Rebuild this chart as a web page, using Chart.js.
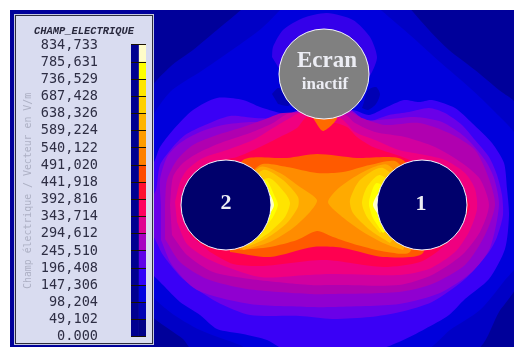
<!DOCTYPE html>
<html>
<head>
<meta charset="utf-8">
<style>
html, body { margin: 0; padding: 0; background: #fff; }
#field { position: absolute; left: 10px; top: 10px; background: #00009a; filter: blur(0.5px); }
#panel { position: absolute; left: 15px; top: 15px; width: 136px; height: 327px; background: #d9dcf0; border: 1.5px solid #2c2c3c; outline: 1px solid #c4c8e0; }
#scale { position: absolute; left: 22px; top: 19px; filter: blur(0.3px); }
</style>
</head>
<body>
<canvas id="field" width="504" height="337"></canvas>
<div id="panel"></div>
<canvas id="scale" width="129" height="326"></canvas>
<script src="https://cdn.jsdelivr.net/npm/chart.js@4"></script>
<script>
// legend levels, V/m
var levelValues = [0, 49102, 98204, 147306, 196408, 245510, 294612, 343714, 392816, 441918, 491020, 540122, 589224, 638326, 687428, 736529, 785631, 834733];
var levelLabels = ['0.000', '49,102', '98,204', '147,306', '196,408', '245,510', '294,612', '343,714', '392,816', '441,918', '491,020', '540,122', '589,224', '638,326', '687,428', '736,529', '785,631', '834,733'];
var levelColors = ['#000088', '#0000b4', '#0000e0', '#3000f8', '#6000e8', '#a800c0', '#e00090', '#ff0060', '#ff1030', '#ff4a00', '#ff8000', '#ff9c00', '#ffb400', '#ffd000', '#ffe600', '#ffff00', '#fffcc8'];

// contours, [x, y], outer to inner
var band1 = [[247,5],[217,30],[193,50],[170,67],[150,92],[150,310],[155,319],[183,339],[193,350],[475,350],[499,312],[518,282],[518,107],[499,90],[475,70],[449,50],[429,30],[407,5]];
var band2 = [[285,5],[262,28],[232,50],[200,72],[170,92],[150,125],[150,290],[170,312],[200,330],[240,345],[250,350],[425,350],[450,330],[480,310],[505,280],[518,262],[518,140],[495,112],[470,88],[440,62],[410,35],[375,5]];
var band3 = [[150,170],[155,160],[160,147],[173,130],[193,110],[217,98],[243,100],[260,107],[280,113],[300,116],[324,118],[352,110],[369,115],[385,108],[404,100],[419,102],[432,100],[455,108],[472,123],[492,143],[504,163],[507,189],[509,215],[505,249],[489,279],[465,299],[449,315],[425,329],[399,342],[369,352],[290,352],[267,340],[243,334],[217,329],[200,315],[180,302],[163,285],[150,272]];
var halo = [[272,57],[273,47],[283,30],[303,18],[327,13],[353,20],[370,37],[377,57],[372,72],[365,80],[285,80],[280,70]];
var spotLeft = [[272,94],[278,88],[284,90],[292,102],[288,106],[278,104]];
var spotRight = [[364,102],[368,90],[376,87],[380,94],[376,104],[368,110],[362,108]];
var band4 = [[150,200],[156,190],[160,165],[172,148],[185,135],[205,125],[230,116],[255,118],[280,118],[300,110],[350,110],[365,122],[389,115],[409,112],[429,108],[445,113],[462,125],[475,140],[489,157],[497,175],[502,195],[503,215],[497,237],[489,252],[465,279],[432,302],[400,312],[370,317],[332,319],[300,316],[250,315],[217,302],[183,279],[163,255],[155,239],[150,230]];
var band5 = [[161,205],[160,180],[167,157],[180,143],[200,132],[223,125],[250,122],[282,122],[300,110],[350,110],[365,120],[390,119],[415,117],[442,122],[465,137],[485,160],[494,178],[499,205],[490,248],[472,272],[440,293],[399,304],[332,307],[310,307],[250,304],[197,290],[172,265],[161,240]];
var band6 = [[165,205],[167,180],[177,160],[193,145],[217,135],[240,128],[263,120],[283,113],[349,112],[362,118],[385,125],[419,123],[449,133],[475,150],[489,179],[495,205],[485,235],[465,265],[432,284],[399,292],[332,294],[310,294],[247,289],[207,279],[180,262],[165,239]];
var band7 = [[170,205],[173,177],[183,163],[200,152],[223,142],[250,133],[273,123],[290,113],[345,115],[355,123],[375,132],[405,137],[435,147],[462,163],[480,179],[489,205],[480,232],[462,255],[432,275],[399,285],[332,285],[310,285],[250,279],[213,272],[187,255],[172,235]];
var band8 = [[175,202],[180,182],[187,170],[203,158],[227,150],[253,140],[273,128],[290,118],[300,113],[340,118],[355,132],[375,140],[399,150],[425,155],[445,160],[465,173],[475,189],[477,209],[469,232],[455,252],[429,269],[399,275],[332,274],[307,275],[260,277],[210,260],[187,244],[177,222]];
var band9 = [[190,235],[182,205],[213,163],[237,157],[260,147],[280,137],[297,128],[307,117],[332,122],[347,127],[357,137],[373,147],[397,155],[410,160],[450,175],[470,205],[460,227],[443,247],[420,262],[383,267],[324,260],[263,266],[233,264],[210,252]];
var band10 = [[226,205],[243,160],[287,158],[317,154],[357,158],[403,160],[422,205],[423,253],[383,257],[343,248],[313,247],[270,257],[230,252]];
var tip = [[313,118],[323,131],[337,118],[325,108]];
var band11 = [[226,205],[260,165],[287,167],[317,173],[343,172],[370,165],[397,162],[422,205],[410,252],[387,252],[357,245],[333,237],[317,231],[297,240],[270,247],[240,250]];
var band12L = [[226,205],[260,167],[280,173],[300,187],[317,200],[310,212],[293,228],[270,242],[243,250]];
var band12R = [[422,205],[388,165],[367,170],[340,187],[328,202],[340,215],[360,230],[383,243],[403,250]];
var band13L = [[226,205],[263,170],[283,180],[298,197],[298,207],[287,223],[267,238],[247,247]];
var band13R = [[422,205],[383,168],[360,180],[350,200],[353,213],[370,230],[390,243]];
var band14L = [[226,205],[268,178],[285,193],[290,203],[285,217],[270,232],[258,240]];
var band14R = [[422,205],[380,175],[367,187],[362,203],[367,217],[380,233]];
var band15L = [[226,205],[265,180],[275,197],[278,205],[273,217],[263,230]];
var band15R = [[422,205],[377,183],[370,197],[369,205],[373,218],[383,233]];
var band16L = [[226,205],[268,193],[274,205],[268,217]];
var band16R = [[422,205],[380,193],[373,205],[380,217]];

var contours = [band1, band2, band3, halo, spotLeft, spotRight, band4, band5, band6, band7, band8, band9, tip, band10, band11, band12L, band12R, band13L, band13R, band14L, band14R, band15L, band15R, band16L, band16R];
var contourColors = ['#0000c6', '#0000dc', '#3a00f6', '#3400ea', '#0000b4', '#0000b4', '#6a00e8', '#9000d0', '#b000b0', '#d000a0', '#f00080', '#ff0050', '#ff6a00', '#ff5a00', '#ff8c00', '#ffaa00', '#ffaa00', '#ffc800', '#ffc800', '#ffe400', '#ffe400', '#ffff00', '#ffff00', '#ffffc0', '#ffffc0'];

// electrodes
var electrodes = [{x: 324, y: 74}, {x: 226, y: 205}, {x: 422, y: 205}];
var electrodeColors = ['#808080', '#00006c', '#00006c'];
var electrodeTexts = [
    {text: 'Ecran', x: 327, y: 61, font: 'bold 23px "Liberation Serif"'},
    {text: 'inactif', x: 325, y: 85, font: 'bold 17px "Liberation Serif"'},
    {text: '2', x: 226, y: 203, font: 'bold 22px "Liberation Serif"'},
    {text: '1', x: 421, y: 204, font: 'bold 22px "Liberation Serif"'}
];

var fieldSets = contours.map(function (c, i) {
    return {
        type: 'scatter',
        data: c.map(function (p) { return {x: p[0], y: p[1]}; }),
        showLine: true,
        fill: 'shape',
        tension: 0.25,
        borderWidth: 0,
        pointRadius: 0,
        backgroundColor: contourColors[i],
        order: contours.length - i + 1
    };
});
fieldSets.push({
    type: 'scatter',
    data: electrodes,
    pointRadius: 45,
    pointBorderWidth: 1,
    pointBorderColor: '#f4f4ff',
    pointBackgroundColor: electrodeColors,
    order: 0
});

var textPlugin = {
    id: 'electrodeTexts',
    afterDatasetsDraw: function (chart) {
        var ctx = chart.ctx;
        ctx.save();
        ctx.textAlign = 'center';
        ctx.textBaseline = 'middle';
        ctx.fillStyle = '#ecedf4';
        electrodeTexts.forEach(function (t) {
            ctx.font = t.font;
            ctx.fillText(t.text, chart.scales.x.getPixelForValue(t.x), chart.scales.y.getPixelForValue(t.y));
        });
        ctx.restore();
    }
};

new Chart(document.getElementById('field').getContext('2d'), {
    data: {datasets: fieldSets},
    plugins: [textPlugin],
    options: {
        responsive: false,
        animation: false,
        events: [],
        layout: {autoPadding: false},
        plugins: {legend: {display: false}, tooltip: {enabled: false}},
        scales: {
            x: {type: 'linear', min: 10, max: 514, display: false},
            y: {type: 'linear', min: 10, max: 347, reverse: true, display: false}
        }
    }
});

var scaleSets = [{data: [[0, 834733], null], backgroundColor: '#000090', barPercentage: 1, categoryPercentage: 1}];
levelColors.forEach(function (color, i) {
    scaleSets.push({
        data: [null, [levelValues[i], levelValues[i + 1]]],
        backgroundColor: color,
        barPercentage: 1,
        categoryPercentage: 1
    });
});

new Chart(document.getElementById('scale').getContext('2d'), {
    type: 'bar',
    data: {labels: ['base', 'level'], datasets: scaleSets},
    options: {
        responsive: false,
        animation: false,
        events: [],
        layout: {autoPadding: false, padding: {top: 6, right: 5, bottom: 8, left: 0}},
        plugins: {
            legend: {display: false},
            tooltip: {enabled: false},
            title: {
                display: true,
                text: 'CHAMP_ELECTRIQUE',
                color: '#28283c',
                align: 'center',
                font: {family: '"Liberation Mono"', size: 10.4, style: 'italic', weight: 'bold', lineHeight: 1.2},
                padding: {top: 0, bottom: 7.5}
            }
        },
        scales: {
            x: {stacked: true, display: false},
            y: {
                min: 0,
                max: 834733,
                afterBuildTicks: function (axis) {
                    axis.ticks = levelValues.map(function (v) { return {value: v}; });
                },
                afterFit: function (axis) { axis.width = 109; },
                grid: {color: '#1a1200', tickColor: 'rgba(0,0,0,0)', z: 1, tickLength: 33},
                border: {display: false},
                title: {
                    display: true,
                    text: 'Champ électrique / Vecteur en V/m',
                    color: '#adb0c4',
                    font: {family: '"DejaVu Sans Mono"', size: 9.9},
                    padding: {top: 0, bottom: 0}
                },
                ticks: {
                    autoSkip: false,
                    padding: 0,
                    color: '#2e2e44',
                    font: {family: '"DejaVu Sans Mono"', size: 13.6},
                    callback: function (v, i) { return levelLabels[i]; }
                }
            }
        }
    }
});
</script>
</body>
</html>
